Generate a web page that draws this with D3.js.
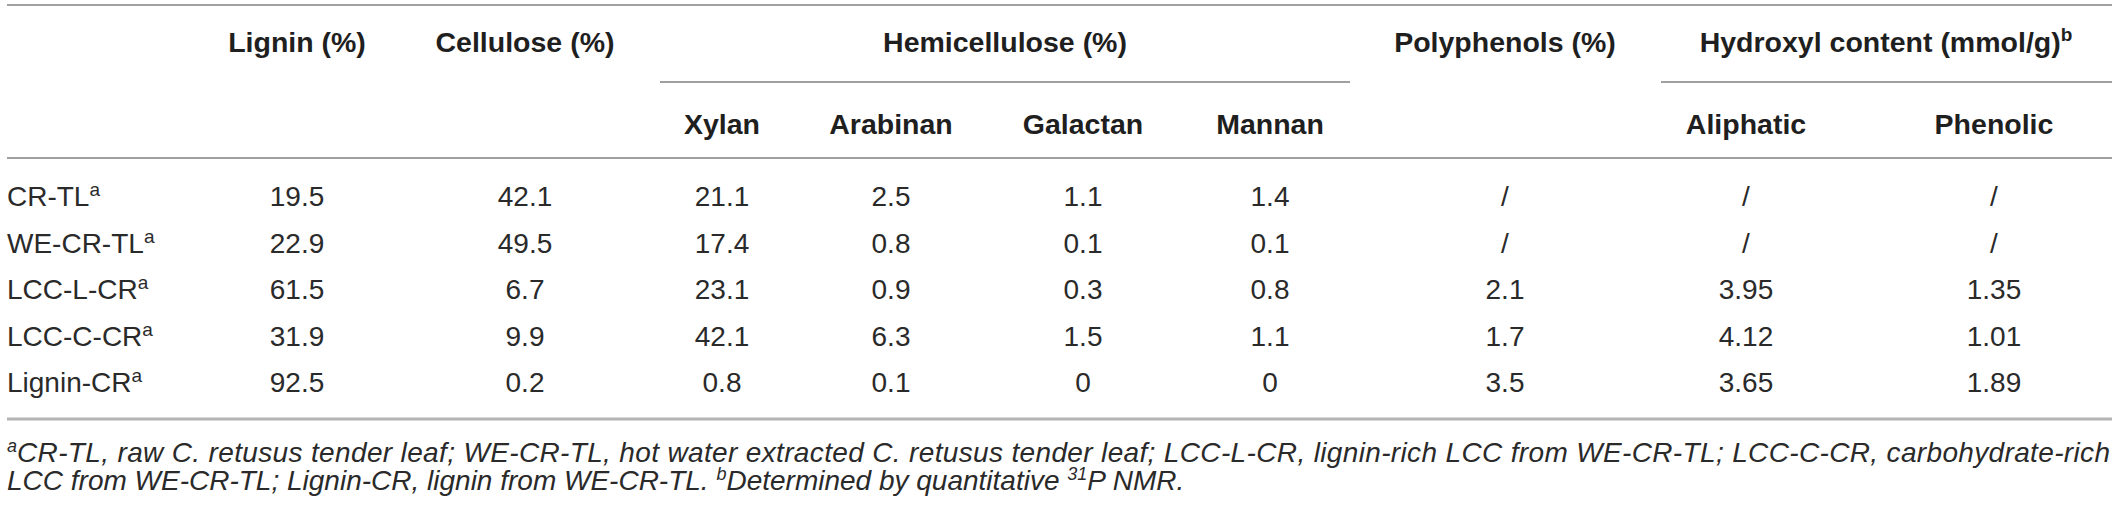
<!DOCTYPE html>
<html>
<head>
<meta charset="utf-8">
<script src="https://cdn.jsdelivr.net/npm/d3@7"></script>
<style>
  body { margin: 0; background: #fff; }
  text { font-family: "Liberation Sans", Arial, Helvetica, sans-serif; }
</style>
</head>
<body>
<div id="table"></div>
<script>
// table values
const samples     = ["CR-TL", "WE-CR-TL", "LCC-L-CR", "LCC-C-CR", "Lignin-CR"];
const lignin      = ["19.5", "22.9", "61.5", "31.9", "92.5"];
const cellulose   = ["42.1", "49.5", "6.7", "9.9", "0.2"];
const xylan       = ["21.1", "17.4", "23.1", "42.1", "0.8"];
const arabinan    = ["2.5", "0.8", "0.9", "6.3", "0.1"];
const galactan    = ["1.1", "0.1", "0.3", "1.5", "0"];
const mannan      = ["1.4", "0.1", "0.8", "1.1", "0"];
const polyphenols = ["/", "/", "2.1", "1.7", "3.5"];
const aliphatic   = ["/", "/", "3.95", "4.12", "3.65"];
const phenolic    = ["/", "/", "1.35", "1.01", "1.89"];

const columnKeys = ["lignin", "cellulose", "xylan", "arabinan", "galactan", "mannan", "polyphenols", "aliphatic", "phenolic"];
const columnValues = [lignin, cellulose, xylan, arabinan, galactan, mannan, polyphenols, aliphatic, phenolic];

const topHeaders = [
  {label: "Lignin (%)", col: "lignin"},
  {label: "Cellulose (%)", col: "cellulose"},
  {label: "Polyphenols (%)", col: "polyphenols"}
];
const subHeaders = ["Xylan", "Arabinan", "Galactan", "Mannan", "Aliphatic", "Phenolic"];
const subHeaderCols = ["xylan", "arabinan", "galactan", "mannan", "aliphatic", "phenolic"];

const footLine1 = "CR-TL, raw C. retusus tender leaf; WE-CR-TL, hot water extracted C. retusus tender leaf; LCC-L-CR, lignin-rich LCC from WE-CR-TL; LCC-C-CR, carbohydrate-rich";
const footLine2a = "LCC from WE-CR-TL; Lignin-CR, lignin from WE-CR-TL. ";
const footLine2b = "Determined by quantitative ";
const footLine2c = "P NMR.";

const width = 2118, height = 506;
const left = 7, right = 2112;

let svg = d3.select("#table")
  .append("svg")
  .attr("width", width)
  .attr("height", height);

// column centres
let x = d3.scaleOrdinal()
  .domain(columnKeys)
  .range([297, 525, 722, 891, 1083, 1270, 1505, 1746, 1994]);

// row centres
let y = d3.scalePoint()
  .domain(samples)
  .range([196, 382]);

const ink = "#1f1f1f";

// rules
const rule = (x1, x2, yy, w, c) => svg.append("line")
  .attr("x1", x1).attr("x2", x2).attr("y1", yy).attr("y2", yy)
  .attr("stroke", c).attr("stroke-width", w);

rule(left, right, 5, 1.5, "#808080");
rule(660, 1350, 82, 1.5, "#808080");
rule(1661, right, 82, 1.5, "#808080");
rule(left, right, 158, 1.5, "#808080");
rule(left, right, 419, 3, "#b4b4b4");

// header row 1
svg.selectAll(".top")
  .data(topHeaders)
  .enter()
  .append("text")
    .attr("class", "top")
    .attr("x", d => x(d.col))
    .attr("y", 52)
    .attr("text-anchor", "middle")
    .attr("font-size", 28.5)
    .attr("font-weight", "bold")
    .attr("fill", ink)
    .text(d => d.label);

svg.append("text")
  .attr("x", 1005).attr("y", 52)
  .attr("text-anchor", "middle")
  .attr("font-size", 28.5).attr("font-weight", "bold").attr("fill", ink)
  .text("Hemicellulose (%)");

let hyd = svg.append("text")
  .attr("x", 1886).attr("y", 52)
  .attr("text-anchor", "middle")
  .attr("font-size", 28.5).attr("font-weight", "bold").attr("fill", ink);
hyd.append("tspan").text("Hydroxyl content (mmol/g)");
hyd.append("tspan").attr("font-size", 19).attr("dy", -11).text("b");

// header row 2
svg.selectAll(".sub")
  .data(subHeaders)
  .enter()
  .append("text")
    .attr("class", "sub")
    .attr("x", (d, i) => x(subHeaderCols[i]))
    .attr("y", 134)
    .attr("text-anchor", "middle")
    .attr("font-size", 28.5)
    .attr("font-weight", "bold")
    .attr("fill", ink)
    .text(d => d);

// row labels
let labels = svg.selectAll(".rowlabel")
  .data(samples)
  .enter()
  .append("text")
    .attr("class", "rowlabel")
    .attr("x", left)
    .attr("y", d => y(d) + 10)
    .attr("font-size", 28)
    .attr("fill", "#2a2a2a");
labels.append("tspan").text(d => d);
labels.append("tspan").attr("font-size", 19).attr("dy", -10).text("a");

// cells
let cells = [];
columnValues.forEach((vals, c) => {
  vals.forEach((v, r) => cells.push({col: columnKeys[c], row: samples[r], value: v}));
});

svg.append("g")
  .selectAll("text")
  .data(cells)
  .enter()
  .append("text")
    .attr("x", d => x(d.col))
    .attr("y", d => y(d.row) + 10)
    .attr("text-anchor", "middle")
    .attr("font-size", 28)
    .attr("fill", "#2a2a2a")
    .text(d => d.value);

// footnotes (first line justified to the table width)
let f1 = svg.append("text")
  .attr("x", left).attr("y", 462)
  .attr("font-size", 28).attr("font-style", "italic").attr("fill", "#2a2a2a");
f1.append("tspan").attr("font-size", 18).attr("dy", -10).text("a");
f1.append("tspan").attr("dy", 10)
  .attr("textLength", right - left - 12)
  .attr("lengthAdjust", "spacing")
  .text(footLine1);

let f2 = svg.append("text")
  .attr("x", left).attr("y", 490)
  .attr("font-size", 28).attr("font-style", "italic").attr("fill", "#2a2a2a");
f2.append("tspan").text(footLine2a);
f2.append("tspan").attr("font-size", 18).attr("dy", -10).text("b");
f2.append("tspan").attr("dy", 10).text(footLine2b);
f2.append("tspan").attr("font-size", 18).attr("dy", -10).text("31");
f2.append("tspan").attr("dy", 10).text(footLine2c);
</script>
</body>
</html>
